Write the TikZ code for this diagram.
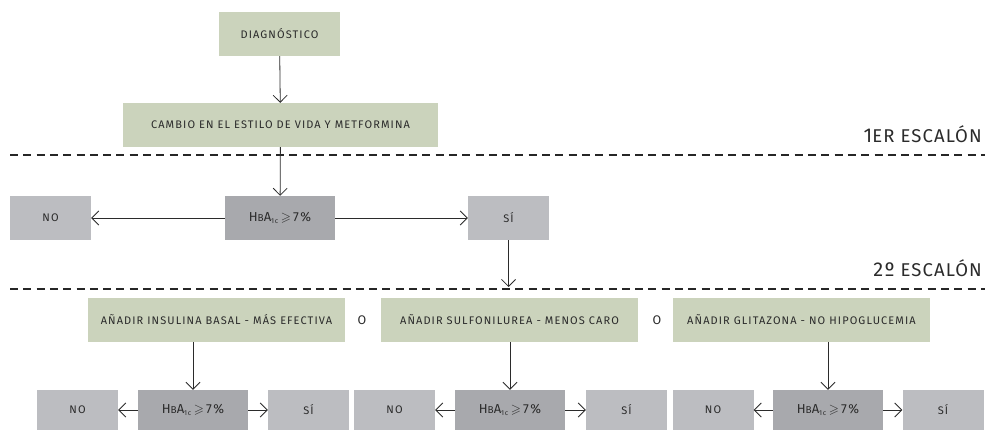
\documentclass[tikz,border=0pt]{standalone}
\usepackage{fontspec}
\usepackage{amssymb}
\setmainfont{Fira Sans}[LetterSpace=10]
\newfontfamily\labelfont{Fira Sans}[LetterSpace=6]
\usetikzlibrary{arrows.meta}
\definecolor{boxgreen}{HTML}{CBD3BC}
\definecolor{boxgray}{HTML}{BCBDC1}
\definecolor{boxdark}{HTML}{A8A9AD}
\definecolor{ink}{HTML}{2B2B2B}
\tikzset{
  box/.style={fill=#1, inner sep=0pt, text=ink, font=\fontsize{11}{13}\selectfont},
  greenbox/.style={box=boxgreen, minimum height=44pt},
  answer/.style={box=boxgray, minimum width=81pt},
  testbox/.style={box=boxdark, minimum width=110pt},
  flow/.style={draw=ink, line width=0.8pt, -{Straight Barb[length=7pt,width=14pt]}},
  stepline/.style={draw=black!85, line width=2.6pt, dash pattern=on 8pt off 5.3pt},
  steplabel/.style={anchor=base east, inner sep=0pt, text=ink, font=\labelfont\fontsize{20}{23}\selectfont},
  orword/.style={text=ink, font=\fontsize{12.5}{14}\selectfont, inner sep=0pt}
}
\newcommand{\hbtest}{{\fontsize{13}{15}\selectfont H{\fontsize{10}{12}\selectfont B}A\textsubscript{\fontsize{7}{8}\selectfont 1c}\,$\geqslant$\,7\%}}
\begin{document}
\begin{tikzpicture}[x=1pt,y=-1pt]
\useasboundingbox (0,0) rectangle (985,430);

% first step
\node[greenbox, minimum width=121pt] (diag) at (279.5,34) {DIAGNÓSTICO};
\node[greenbox, minimum width=315pt] (cambio) at (280.5,125) {CAMBIO EN EL ESTILO DE VIDA Y METFORMINA};
\node[testbox, minimum height=44pt] (hba0) at (280,218) {\hbtest};
\node[answer, minimum height=44pt] (no0) at (50.5,218) {NO};
\node[answer, minimum height=44pt] (si0) at (508.5,218) {SÍ};

% step separators
\draw[stepline] (10,155) -- (985,155);
\draw[stepline] (10,289) -- (985,289);
\node[steplabel] (lab1) at (982,143) {1{\fontsize{18.5}{21}\selectfont ER ESCALÓN}};
\node[steplabel] (lab2) at (982,277) {2º{\fontsize{18.5}{21}\selectfont\ ESCALÓN}};

% second step options
\node[greenbox, minimum width=257pt] (g1) at (216.5,320) {AÑADIR INSULINA BASAL - MÁS EFECTIVA};
\node[orword] (o1) at (362,320) {O};
\node[greenbox, minimum width=257pt] (g2) at (509.5,320) {AÑADIR SULFONILUREA - MENOS CARO};
\node[orword] (o2) at (657,320) {O};
\node[greenbox, minimum width=257pt] (g3) at (801.5,320) {AÑADIR GLITAZONA - NO HIPOGLUCEMIA};

% second step checks
\node[answer, minimum height=40pt] (no1) at (77.5,410) {NO};
\node[testbox, minimum height=40pt] (hba1) at (193,410) {\hbtest};
\node[answer, minimum height=40pt] (si1) at (308.5,410) {SÍ};
\node[answer, minimum height=40pt] (no2) at (394.5,410) {NO};
\node[testbox, minimum height=40pt] (hba2) at (510,410) {\hbtest};
\node[answer, minimum height=40pt] (si2) at (626.5,410) {SÍ};
\node[answer, minimum height=40pt] (no3) at (713,410) {NO};
\node[testbox, minimum height=40pt] (hba3) at (828,410) {\hbtest};
\node[answer, minimum height=40pt] (si3) at (943,410) {SÍ};

\coordinate (step2) at (508.5,287);

% connectors
\draw[flow] (diag) -- (cambio);
\draw[flow] (cambio) -- (hba0);
\draw[flow] (hba0) -- (no0);
\draw[flow] (hba0) -- (si0);
\draw[flow] (si0) -- (step2);
\draw[flow] (g1.south -| hba1.north) -- (hba1);
\draw[flow] (g2.south -| hba2.north) -- (hba2);
\draw[flow] (g3.south -| hba3.north) -- (hba3);
\draw[flow] (hba1) -- (no1);
\draw[flow] (hba1) -- (si1);
\draw[flow] (hba2) -- (no2);
\draw[flow] (hba2) -- (si2);
\draw[flow] (hba3) -- (no3);
\draw[flow] (hba3) -- (si3);
\end{tikzpicture}
\end{document}
